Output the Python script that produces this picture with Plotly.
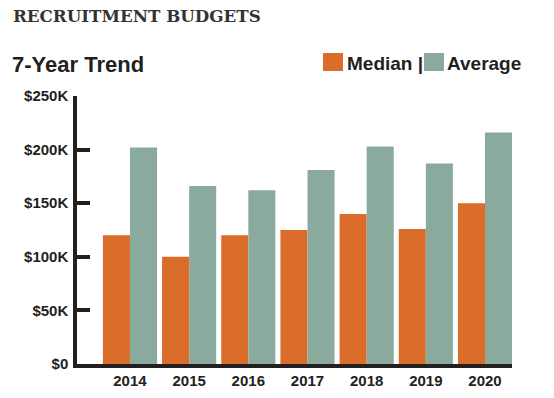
import plotly.graph_objects as go

years = ["2014", "2015", "2016", "2017", "2018", "2019", "2020"]
median = [120, 100, 120, 125, 140, 126, 150]
average = [202, 166, 162, 181, 203, 187, 216]
tick_vals = [0, 50, 100, 150, 200, 250]
tick_text = ["$0", "$50K", "$100K", "$150K", "$200K", "$250K"]

ORANGE = "#DB6D2B"
GREEN = "#8AAA9E"
DARK = "#231F20"

W, H = 554, 398
L, R, T, B = 77, 42, 96, 34

fig = go.Figure()
fig.add_trace(go.Bar(x=years, y=median, name="Median", marker_color=ORANGE,
                     marker_line_width=0))
fig.add_trace(go.Bar(x=years, y=average, name="Average", marker_color=GREEN,
                     marker_line_width=0))

def px_x(x):
    return (x - L) / (W - L - R)

def px_y(y):
    return (H - B - y) / (H - T - B)

SANS = "Liberation Sans, Arial, sans-serif"

fig.update_layout(
    width=W, height=H,
    margin=dict(l=L, r=R, t=T, b=B, pad=0, autoexpand=False),
    paper_bgcolor="white", plot_bgcolor="white",
    barmode="group", bargap=0.085, bargroupgap=0,
    showlegend=False,
    font=dict(family=SANS, color=DARK),
    xaxis=dict(
        type="category", range=[-0.895, 6.456], automargin=False,
        showline=True, linecolor=DARK, linewidth=4,
        ticks="", showgrid=False, zeroline=False,
        tickfont=dict(size=15, color=DARK, family=SANS, weight="bold"),
        ticklabelstandoff=0,
    ),
    yaxis=dict(
        range=[0, 250], tickvals=tick_vals, ticktext=tick_text, automargin=False,
        showline=True, linecolor=DARK, linewidth=3.5,
        ticks="inside", ticklen=13, tickwidth=3.5, tickcolor=DARK,
        showgrid=False, zeroline=False,
        tickfont=dict(size=15, color=DARK, family=SANS, weight="bold"),
        ticklabelstandoff=2,
    ),
)

annotations = [
    dict(text="RECRUITMENT BUDGETS", x=px_x(11), y=px_y(16), xref="paper", yref="paper",
         xanchor="left", yanchor="middle", showarrow=False,
         font=dict(family="DejaVu Serif, serif", size=16.7, color="#333333", weight="bold")),
    dict(text="7-Year Trend", x=px_x(10), y=px_y(64), xref="paper", yref="paper",
         xanchor="left", yanchor="middle", showarrow=False,
         font=dict(family=SANS, size=22, color=DARK, weight="bold")),
    dict(text="Median |", x=px_x(345), y=px_y(63), xref="paper", yref="paper",
         xanchor="left", yanchor="middle", showarrow=False,
         font=dict(family=SANS, size=19, color=DARK, weight="bold")),
    dict(text="Average", x=px_x(445), y=px_y(63), xref="paper", yref="paper",
         xanchor="left", yanchor="middle", showarrow=False,
         font=dict(family=SANS, size=19, color=DARK, weight="bold")),
]
fig.update_layout(annotations=annotations)

fig.add_shape(type="rect", xref="paper", yref="paper",
              x0=px_x(323), x1=px_x(343), y0=px_y(71), y1=px_y(53),
              fillcolor=ORANGE, line_width=0)
fig.add_shape(type="rect", xref="paper", yref="paper",
              x0=px_x(424), x1=px_x(444), y0=px_y(71), y1=px_y(53),
              fillcolor=GREEN, line_width=0)

fig.write_html("out.html", config={"displayModeBar": False},
               post_script="document.body.style.margin='0px';document.body.style.overflow='hidden';")
